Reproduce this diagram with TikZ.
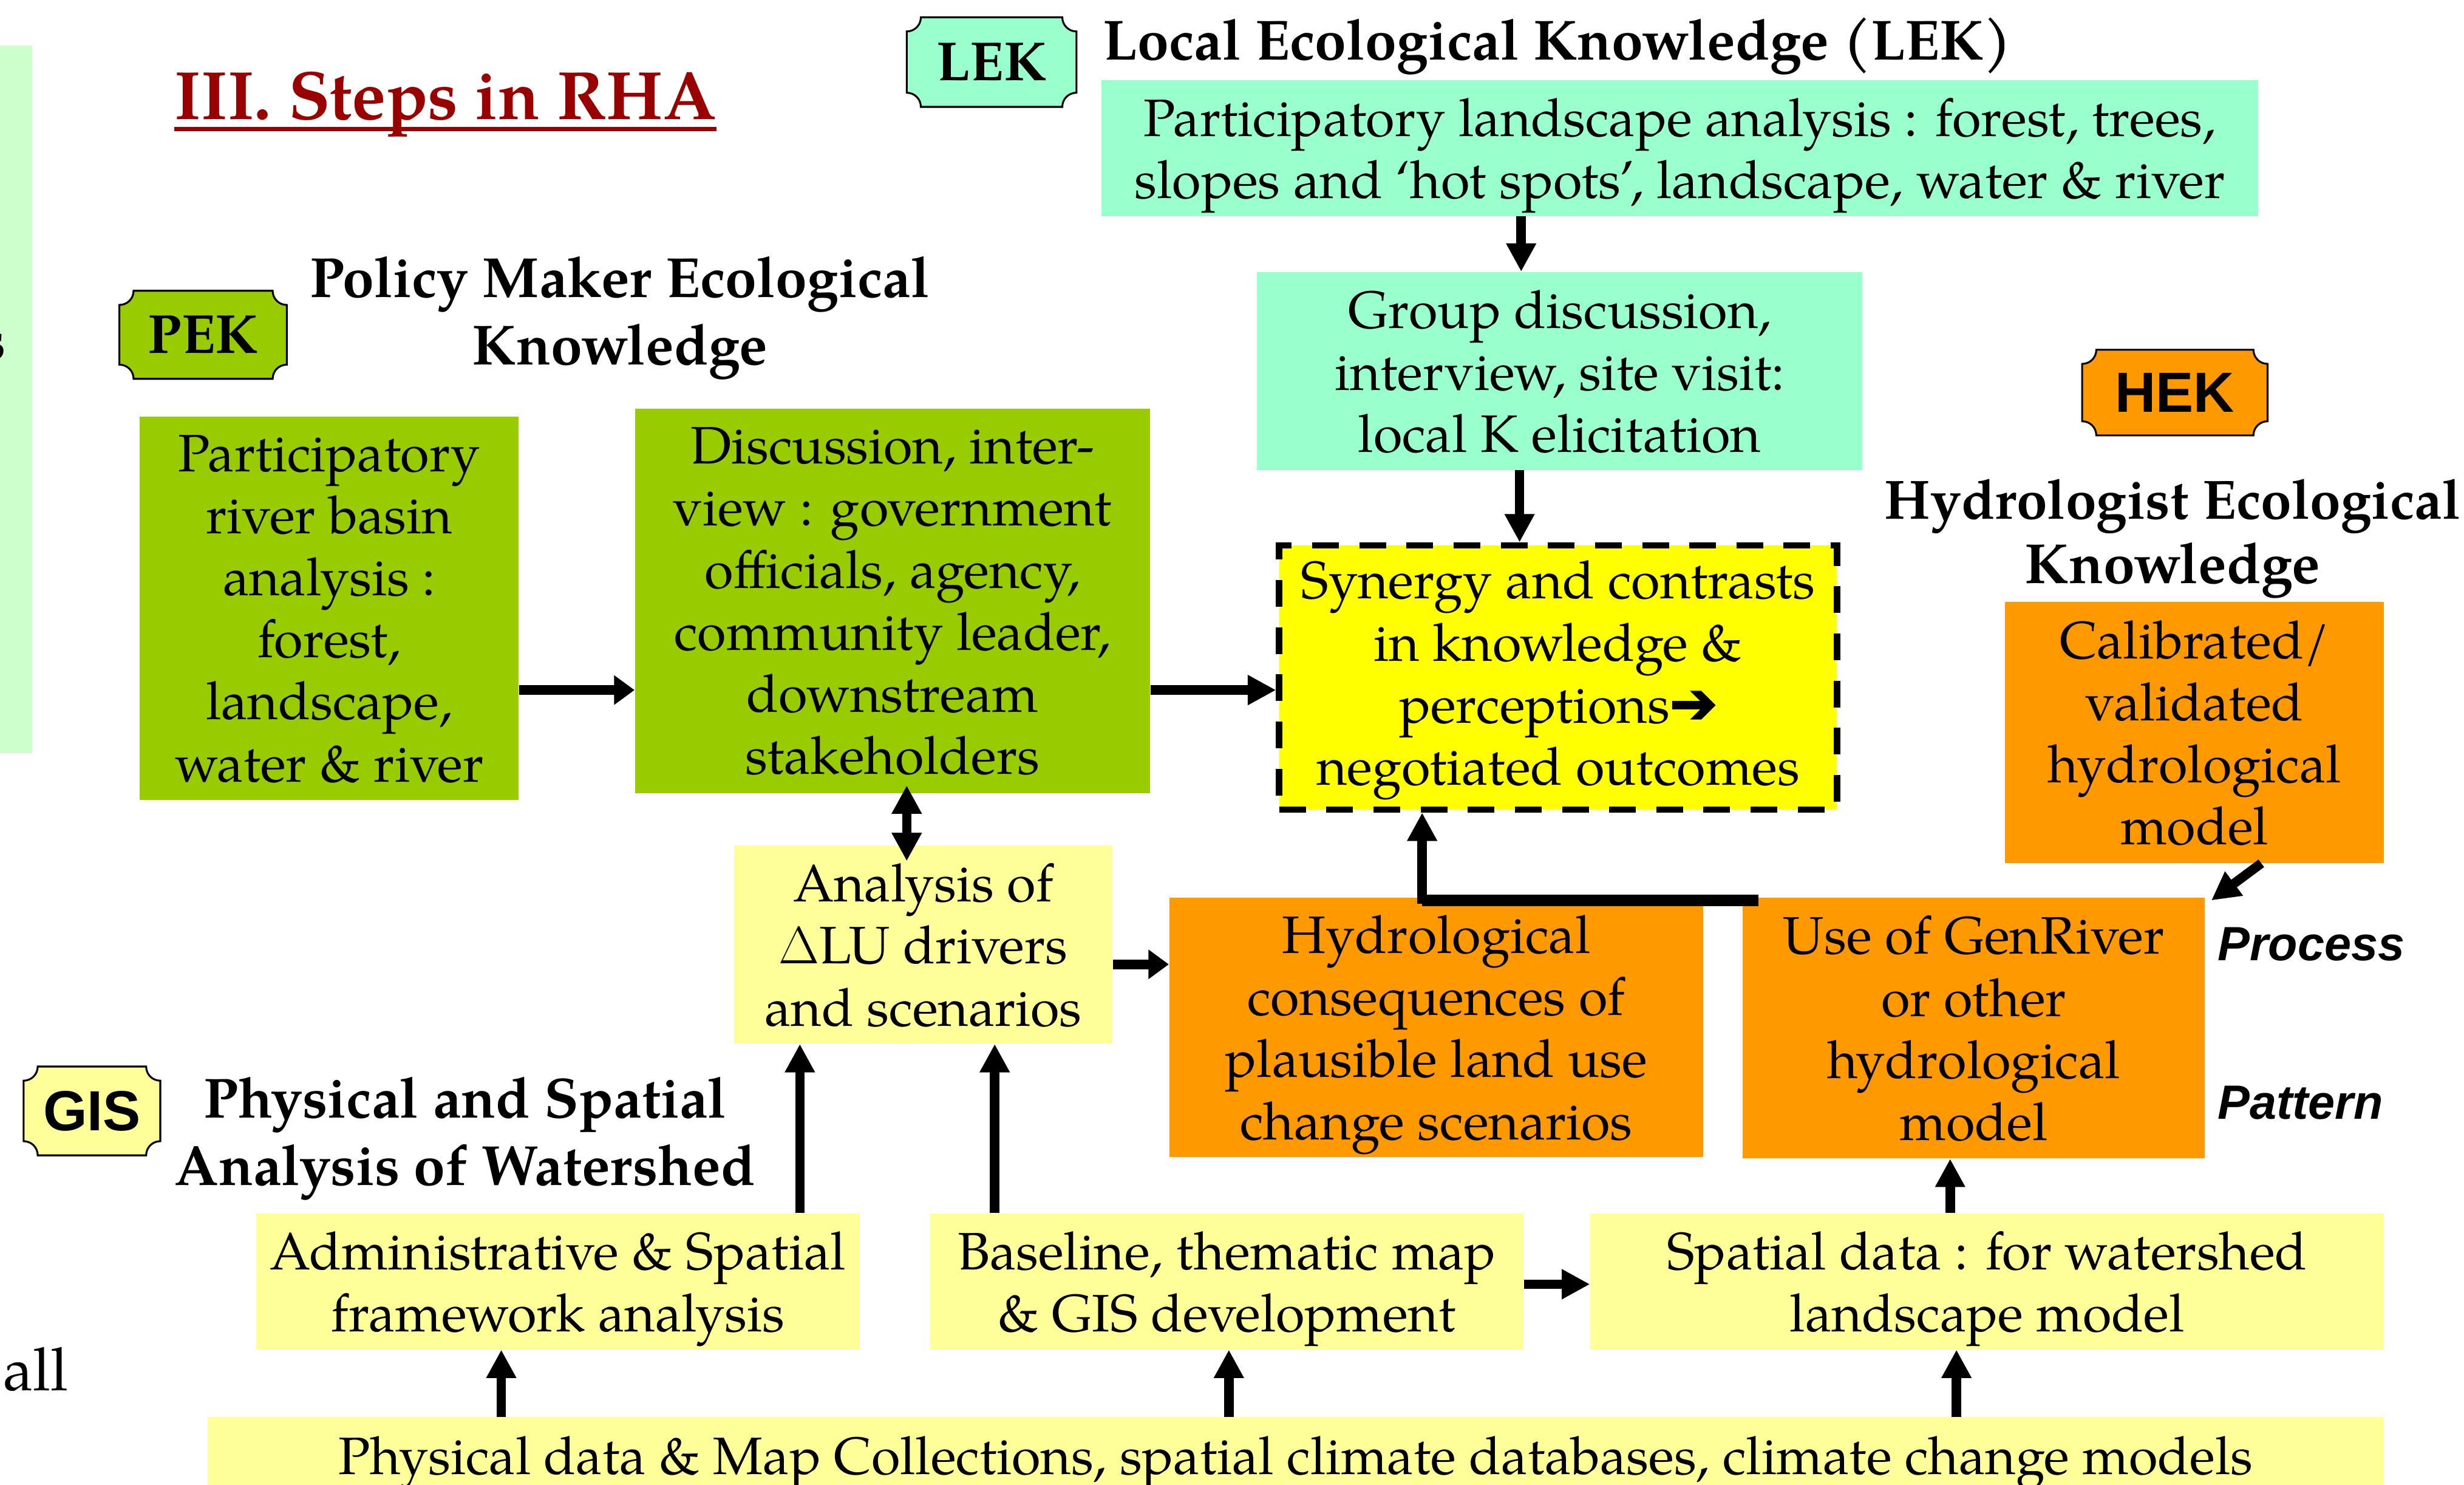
\RequirePackage{fix-cm}
\documentclass[tikz,border=0pt]{standalone}
\usepackage[no-math]{fontspec}
\setmainfont{TeX Gyre Pagella}
\newfontfamily\arialfont{Liberation Sans}
\newfontfamily\dejavuarrow[FakeBold=3]{DejaVu Sans}
\usetikzlibrary{arrows.meta}
\definecolor{mint}{HTML}{99FFCC}
\definecolor{lgreen}{HTML}{CCFFCC}
\definecolor{pgreen}{HTML}{99CC00}
\definecolor{yel}{HTML}{FFFF00}
\definecolor{lyel}{HTML}{FFFF99}
\definecolor{orng}{HTML}{FF9900}
\definecolor{dred}{HTML}{990000}
\newcommand\myBody{\fontsize{33.5}{39.5}\selectfont}
\newcommand\myHead{\bfseries\fontsize{36}{42}\selectfont}
% last line of a box: keep its descenders out of the centring
\newcommand\LL[1]{\raisebox{0pt}[\height][0pt]{#1}}
% plaque (badge) outline: x1 y1 x2 y2 colour, y downwards
\newcommand\plaquebg[5]{%
  \filldraw[fill=#5, draw=black, line width=1.2pt]
    ({#1+9},#2) -- ({#3-9},#2)
    .. controls ({#3-9},{#2+5}) and ({#3-5},{#2+9}) .. (#3,{#2+9})
    -- (#3,{#4-9})
    .. controls ({#3-5},{#4-9}) and ({#3-9},{#4-5}) .. ({#3-9},#4)
    -- ({#1+9},#4)
    .. controls ({#1+9},{#4-5}) and ({#1+5},{#4-9}) .. (#1,{#4-9})
    -- (#1,{#2+9})
    .. controls ({#1+5},{#2+9}) and ({#1+9},{#2+5}) .. cycle;}
\begin{document}
\begin{tikzpicture}[x=1pt,y=-1pt,
  box/.style={inner sep=0pt, align=center, font=\myBody},
  head/.style={inner sep=0pt, anchor=base, font=\myHead},
  badgeserif/.style={inner sep=0pt, font=\bfseries\fontsize{35}{40}\selectfont},
  badgesans/.style={inner sep=0pt, font=\arialfont\bfseries\fontsize{36}{40}\selectfont},
  sidelabel/.style={inner sep=0pt, anchor=base west, font=\arialfont\bfseries\itshape\fontsize{30.6}{36}\selectfont},
  arr/.style={line width=6pt, -{Triangle[width=18pt,length=18pt]}},
  sarr/.style={line width=6pt, -{Triangle[width=18pt,length=13pt]}},
  darr/.style={line width=6pt, {Triangle[width=18pt,length=18pt]}-{Triangle[width=18pt,length=18pt]}}
]
\useasboundingbox (0,0) rectangle (1568,944.74);
\fill[white] (0,0) rectangle (1568,944.74);

% cut-off element at left edge
\fill[lgreen] (0,29) rectangle (20.5,479);
\node[inner sep=0pt, anchor=base east, font=\myHead] (frag1) at (4,229) {s};
\node[inner sep=0pt, anchor=base west, font=\fontsize{38}{45}\selectfont] (frag2) at (2,884.5) {all};

% title
\node[inner sep=0pt, anchor=base, text=dred, font=\bfseries\fontsize{43.5}{50}\selectfont] (title) at (283.5,76) {III. Steps in RHA};
\draw[dred, line width=2.6pt] ([yshift=-6pt]title.base west) -- ([yshift=-6pt]title.base east);

% badges
\plaquebg{577}{11}{685}{68}{mint}
\node[badgeserif] (lek) at (631,39.5) {LEK};
\plaquebg{76}{185}{182.5}{241}{pgreen}
\node[badgeserif] (pek) at (129.25,213) {PEK};
\plaquebg{1325}{222.5}{1443}{277}{orng}
\node[badgesans] (hek) at (1384,249.75) {HEK};
\plaquebg{15}{678.5}{102}{735}{lyel}
\node[badgesans] (gis) at (58.5,706.75) {GIS};

% headings
\node[head] (lekh) at (991,38) {Local Ecological Knowledge (LEK)};
\node[head] (pekh1) at (394.5,189) {Policy Maker Ecological};
\node[head] (pekh2) at (394.5,232) {Knowledge};
\node[head, font=\bfseries\fontsize{35.2}{42}\selectfont] (hekh1) at (1382.5,330) {Hydrologist Ecological};
\node[head] (hekh2) at (1382.5,371) {Knowledge};
\node[head] (gish1) at (296,711) {Physical and Spatial};
\node[head] (gish2) at (296,754) {Analysis of Watershed};
\node[sidelabel] (process) at (1411,611) {Process};
\node[sidelabel] (pattern) at (1411,712) {Pattern};

% boxes
\node[box, fill=mint, minimum width=736pt, minimum height=86.5pt] (lek1) at (1069,94.25)
  {Participatory landscape analysis : forest, trees,\\\LL{slopes and ‘hot spots’, landscape, water \& river}};
\node[box, fill=mint, minimum width=385pt, minimum height=126pt] (grp) at (992.5,236)
  {Group discussion,\\interview, site visit:\\\LL{local K elicitation}};
\node[box, fill=yel, draw=black, line width=4pt, dash pattern=on 17pt off 13pt,
      minimum width=355pt, minimum height=168pt] (syn) at (991.5,431)
  {Synergy and contrasts\\in knowledge \&\\perceptions{\dejavuarrow\fontsize{36}{40}\selectfont ➔}\\\LL{negotiated outcomes}\rule[-6pt]{0pt}{6pt}};
\node[box, fill=pgreen, minimum width=241pt, minimum height=244pt] (pek1) at (209.5,387)
  {Participatory\\river basin\\analysis :\\forest,\\landscape,\\\LL{water \& river}};
\node[box, fill=pgreen, minimum width=328pt, minimum height=244.5pt] (pek2) at (568,382.25)
  {Discussion, inter-\\view : government\\officials, agency,\\community leader,\\downstream\\\LL{stakeholders}};
\node[box, fill=lyel, minimum width=241pt, minimum height=126pt] (ana) at (587.5,601)
  {Analysis of\\$\Delta$LU drivers\\\LL{and scenarios}};
\node[box, fill=orng, minimum width=340pt, minimum height=165pt] (hyd) at (914,653.5)
  {Hydrological\\consequences of\\plausible land use\\\LL{change scenarios}};
\node[box, fill=orng, minimum width=294pt, minimum height=166pt] (gen) at (1256,654)
  {Use of GenRiver\\or other\\hydrological\\\LL{model}};
\node[box, fill=orng, minimum width=241pt, minimum height=166pt] (cal) at (1396.5,466)
  {Calibrated/\\validated\\hydrological\\\LL{model}};
\node[box, fill=lyel, minimum width=384pt, minimum height=86.5pt] (adm) at (355,815.25)
  {Administrative \& Spatial\\\LL{framework analysis}};
\node[box, fill=lyel, minimum width=377.5pt, minimum height=86.5pt] (bas) at (780.75,815.25)
  {Baseline, thematic map\\\LL{\& GIS development}};
\node[box, fill=lyel, minimum width=505pt, minimum height=86.5pt] (spa) at (1264.5,815.25)
  {Spatial data : for watershed\\\LL{landscape model}};
\node[box, fill=lyel, minimum width=1385pt, minimum height=48.5pt] (phy) at (824.5,925.75)
  {\LL{Physical data \& Map Collections, spatial climate databases, climate change models}};

% helper coordinates
\coordinate (x968) at (968,0);
\coordinate (x967) at (967,0);
\coordinate (x577) at (577,0);
\coordinate (x1439) at (1439,0);
\coordinate (x905) at (905,0);
\coordinate (x509) at (509,0);
\coordinate (x633) at (633,0);
\coordinate (x1241) at (1241,0);
\coordinate (x319) at (319,0);
\coordinate (x782) at (782,0);
\coordinate (x1245) at (1245,0);
\coordinate (y439) at (0,439);
\coordinate (y613) at (0,613.5);
\coordinate (y817) at (0,817);
\coordinate (gtop) at (1119,572);
\coordinate (gtop2) at (1119,575.8);

% connectors
\draw[arr] (x968 |- lek1.south) -- (x968 |- grp.north);
\draw[arr] (x967 |- grp.south) -- (x967 |- syn.north);
\draw[sarr] (pek1.east |- y439) -- (pek2.west |- y439);
\draw[arr] (pek2.east |- y439) -- (syn.west |- y439);
\draw[darr] ([yshift=5pt]x577 |- pek2.south) -- ([yshift=-10pt]x577 |- ana.north);
\draw[sarr] (ana.east |- y613) -- (hyd.west |- y613);
\draw[arr] (x1439 |- cal.south) -- ([xshift=4pt,yshift=-2pt]gen.north east);
\draw[arr] (gtop) -- (gtop -| x905) -- (x905 |- syn.south);
\draw[line width=1.6pt] (gtop2) -- (gtop2 -| x905);
\draw[arr] (x509 |- adm.north) -- (x509 |- ana.south);
\draw[arr] (x633 |- bas.north) -- (x633 |- ana.south);
\draw[arr] (x1241 |- spa.north) -- (x1241 |- gen.south);
\draw[arr] (bas.east |- y817) -- (spa.west |- y817);
\draw[arr] (x319 |- phy.north) -- (x319 |- adm.south);
\draw[arr] (x782 |- phy.north) -- (x782 |- bas.south);
\draw[arr] (x1245 |- phy.north) -- (x1245 |- spa.south);
\end{tikzpicture}
\end{document}
